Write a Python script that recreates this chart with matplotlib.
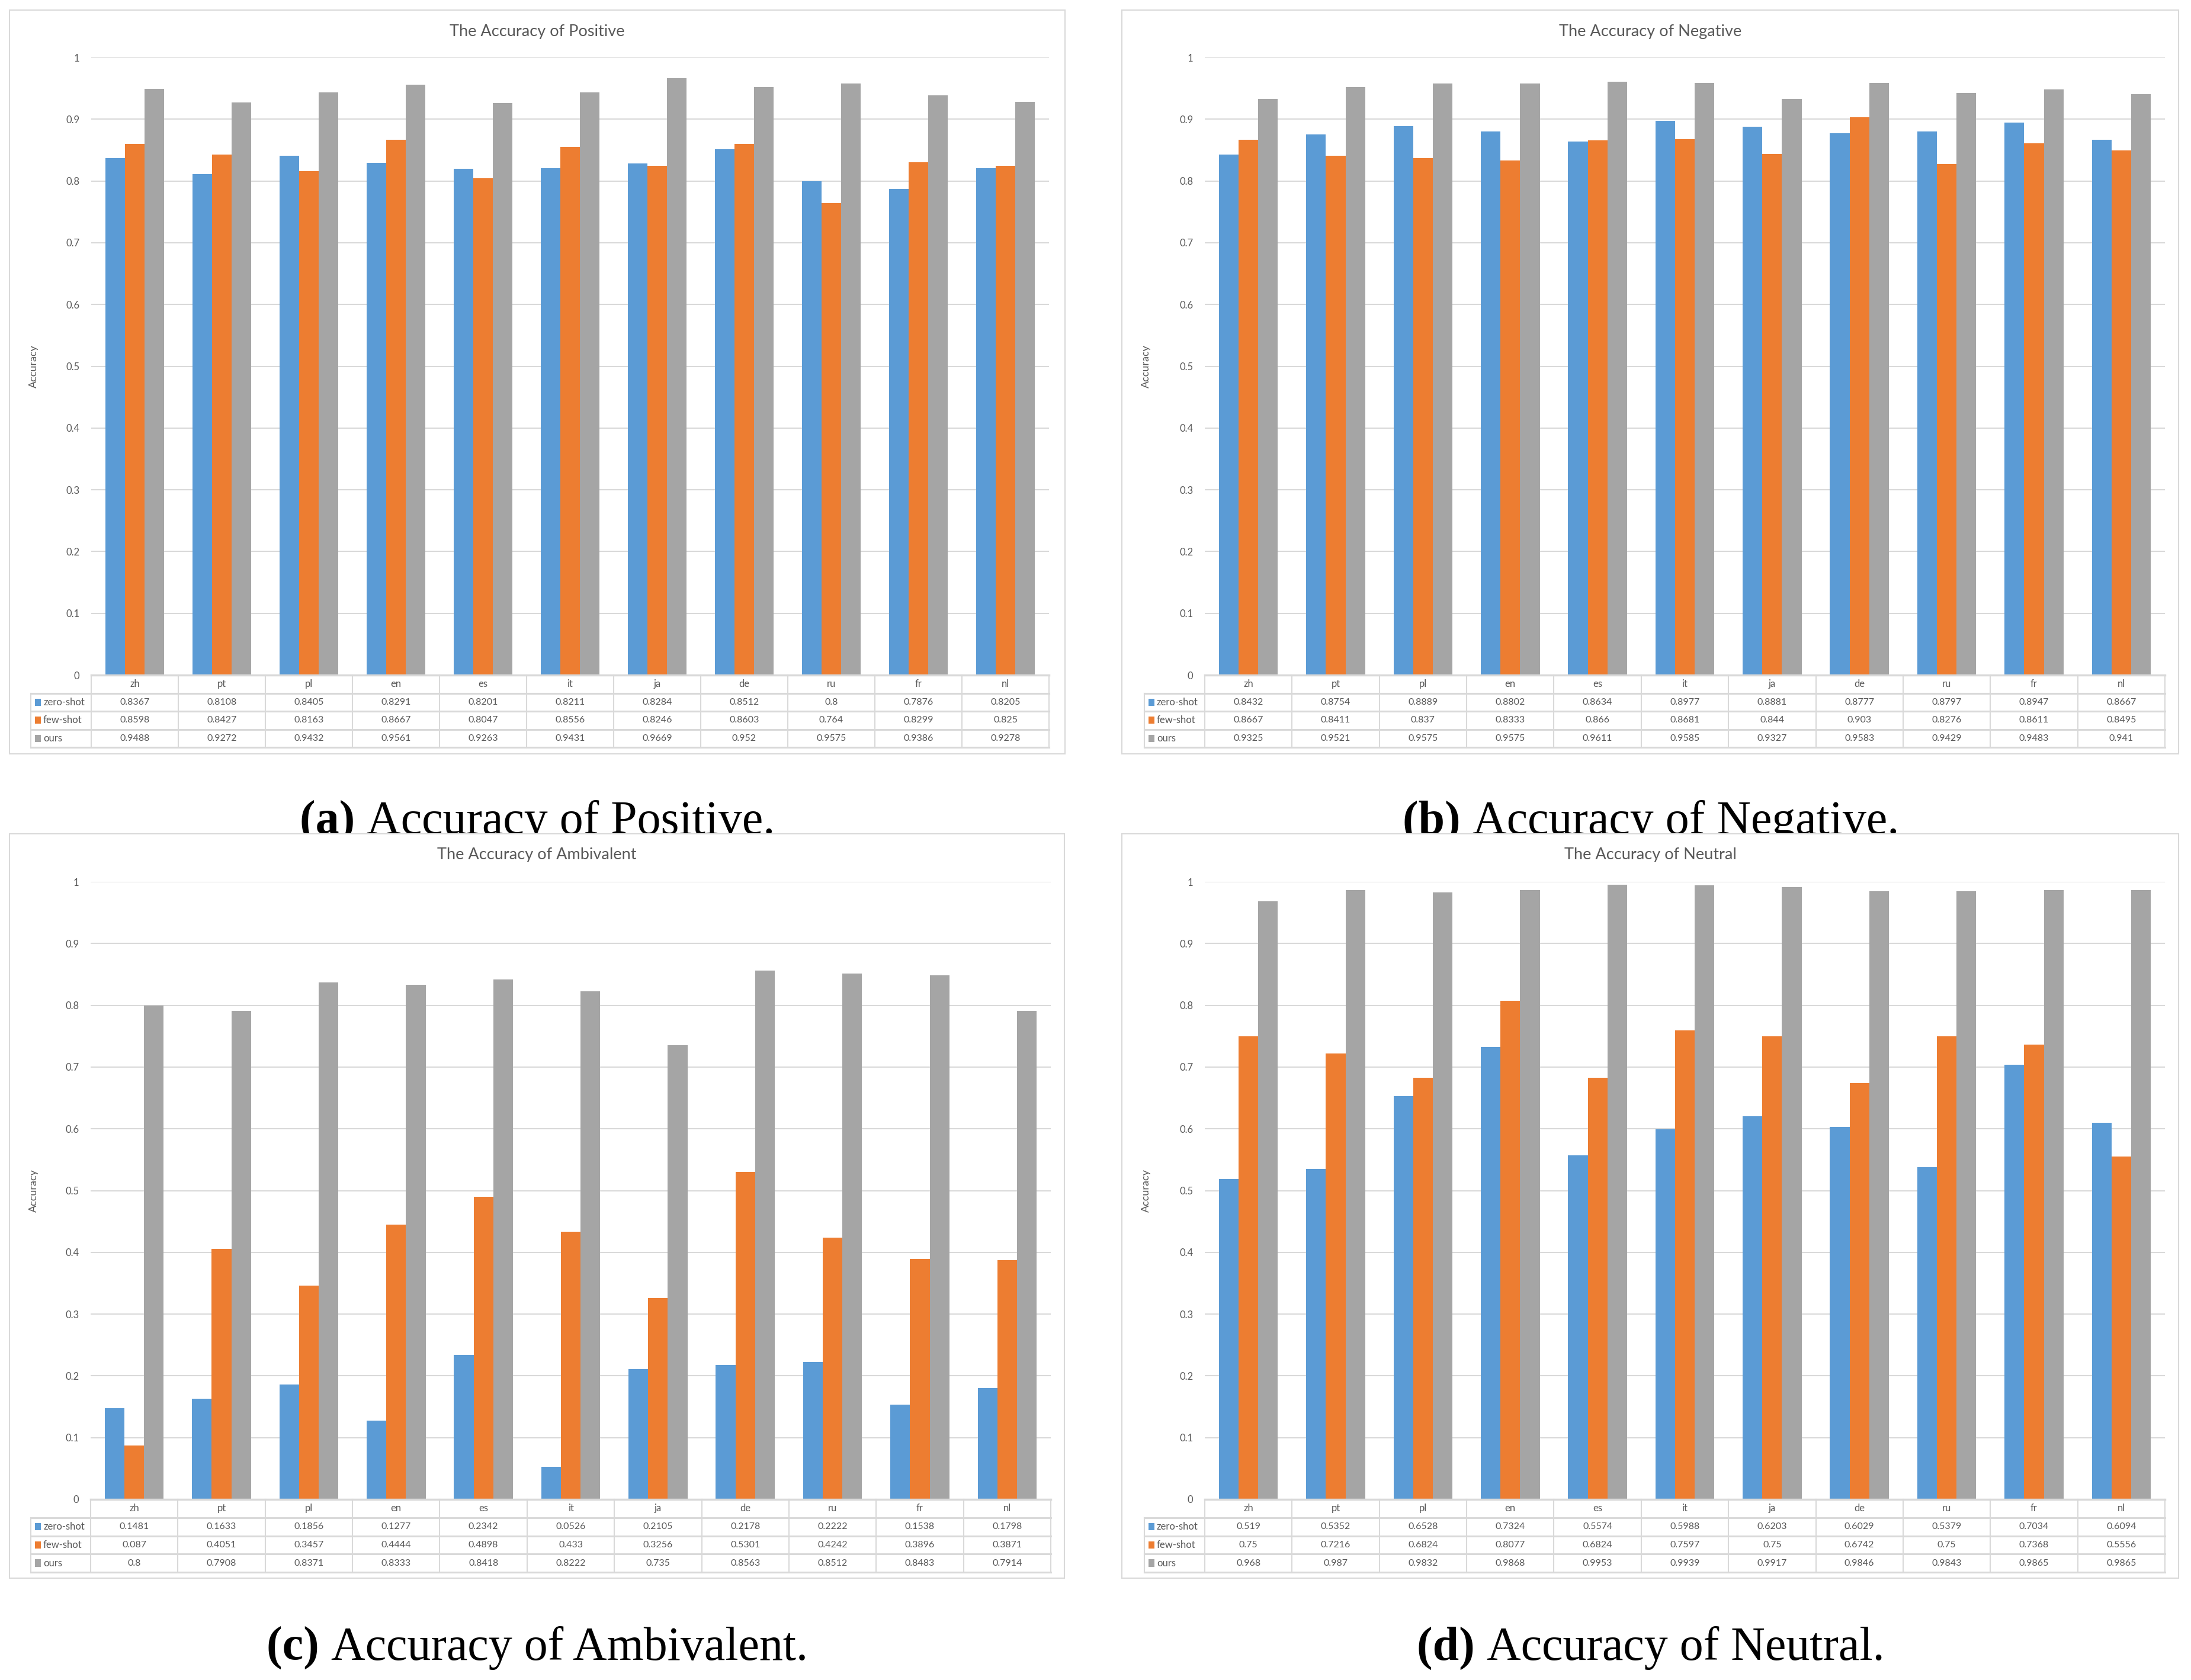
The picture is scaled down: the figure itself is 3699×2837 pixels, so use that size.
import numpy as np
import matplotlib
matplotlib.use("Agg")
import matplotlib.pyplot as plt
from matplotlib.patches import Rectangle

# languages on the x axis
langs = ["zh", "pt", "pl", "en", "es", "it", "ja", "de", "ru", "fr", "nl"]
series_names = ["zero-shot", "few-shot", "ours"]
colors = ["#5B9BD5", "#ED7D31", "#A5A5A5"]

pos_zero = [0.8367, 0.8108, 0.8405, 0.8291, 0.8201, 0.8211, 0.8284, 0.8512, 0.8, 0.7876, 0.8205]
pos_few = [0.8598, 0.8427, 0.8163, 0.8667, 0.8047, 0.8556, 0.8246, 0.8603, 0.764, 0.8299, 0.825]
pos_ours = [0.9488, 0.9272, 0.9432, 0.9561, 0.9263, 0.9431, 0.9669, 0.952, 0.9575, 0.9386, 0.9278]

neg_zero = [0.8432, 0.8754, 0.8889, 0.8802, 0.8634, 0.8977, 0.8881, 0.8777, 0.8797, 0.8947, 0.8667]
neg_few = [0.8667, 0.8411, 0.837, 0.8333, 0.866, 0.8681, 0.844, 0.903, 0.8276, 0.8611, 0.8495]
neg_ours = [0.9325, 0.9521, 0.9575, 0.9575, 0.9611, 0.9585, 0.9327, 0.9583, 0.9429, 0.9483, 0.941]

amb_zero = [0.1481, 0.1633, 0.1856, 0.1277, 0.2342, 0.0526, 0.2105, 0.2178, 0.2222, 0.1538, 0.1798]
amb_few = [0.087, 0.4051, 0.3457, 0.4444, 0.4898, 0.433, 0.3256, 0.5301, 0.4242, 0.3896, 0.3871]
amb_ours = [0.8, 0.7908, 0.8371, 0.8333, 0.8418, 0.8222, 0.735, 0.8563, 0.8512, 0.8483, 0.7914]

neu_zero = [0.519, 0.5352, 0.6528, 0.7324, 0.5574, 0.5988, 0.6203, 0.6029, 0.5379, 0.7034, 0.6094]
neu_few = [0.75, 0.7216, 0.6824, 0.8077, 0.6824, 0.7597, 0.75, 0.6742, 0.75, 0.7368, 0.5556]
neu_ours = [0.968, 0.987, 0.9832, 0.9868, 0.9953, 0.9939, 0.9917, 0.9846, 0.9843, 0.9865, 0.9865]

titles = ["The Accuracy of Positive", "The Accuracy of Negative",
          "The Accuracy of Ambivalent", "The Accuracy of Neutral"]
captions = [("(a)", "Accuracy of Positive."), ("(b)", "Accuracy of Negative."),
            ("(c)", "Accuracy of Ambivalent."), ("(d)", "Accuracy of Neutral.")]
data = [(pos_zero, pos_few, pos_ours), (neg_zero, neg_few, neg_ours),
        (amb_zero, amb_few, amb_ours), (neu_zero, neu_few, neu_ours)]

W, H = 3699, 2837
DPI = 100
fig = plt.figure(figsize=(W / DPI, H / DPI), dpi=DPI)
fig.patch.set_facecolor("white")

FONT = "Lato"
TXT = "#595959"
GRID = "#D9D9D9"
LW = 1.5


def fx(px):
    return px / W


def fy(py):
    return 1 - py / H


# panel layouts in pixels: frame (l, t, r, b), plot (l, top(y=1), r, zero), table left/bottom, caption centre
panels = [
    dict(frame=(16, 17, 1798, 1273), plot=(154, 97, 1771, 1140), tl=52, tb=1262, cx=907, cy=1408, title_y=53, zf=0.1),
    dict(frame=(1894, 17, 3678, 1273), plot=(2034, 97, 3655, 1140), tl=1932, tb=1262, cx=2787, cy=1408, title_y=53, zf=0.1),
    dict(frame=(16, 1408, 1797, 2665), plot=(153, 1489, 1774, 2532), tl=52, tb=2655, cx=907, cy=2803, title_y=1444, zf=0.5),
    dict(frame=(1894, 1408, 3678, 2665), plot=(2034, 1489, 3655, 2532), tl=1932, tb=2655, cx=2787, cy=2803, title_y=1444, zf=0.5),
]

renderer = fig.canvas.get_renderer()

for k, p in enumerate(panels):
    l, t, r, b = p["frame"]
    fig.add_artist(Rectangle((fx(l), fy(b)), fx(r - l), (b - t) / H, transform=fig.transFigure,
                             facecolor="white", edgecolor=GRID, lw=LW, zorder=p["zf"]))

    pl, pt, pr, pb = p["plot"]
    ax = fig.add_axes([fx(pl), fy(pb), fx(pr - pl), (pb - pt) / H], zorder=1)
    ax.set_facecolor("none")
    x = np.arange(len(langs))
    w = 0.225
    for i, vals in enumerate(data[k]):
        ax.bar(x + (i - 1) * w, vals, width=w, color=colors[i], zorder=2)
    ax.set_xlim(-0.5, len(langs) - 0.5)
    ax.set_ylim(0, 1)
    ticks = np.arange(0, 1.01, 0.1)
    ax.set_yticks(ticks)
    ax.set_yticklabels([f"{v:g}" for v in np.round(ticks, 1)], fontsize=12, color=TXT, family=FONT)
    ax.set_xticks([])
    ax.tick_params(axis="y", length=0, pad=14)
    ax.grid(axis="y", color=GRID, lw=LW, zorder=0)
    for s in ax.spines.values():
        s.set_visible(False)

    fig.text(fx(l + 41), fy((pt + pb) / 2), "Accuracy", rotation=90, ha="center", va="center",
             fontsize=13, color=TXT, family=FONT, zorder=2)
    fig.text(fx((l + r) / 2), fy(p["title_y"]), titles[k], ha="center", va="center",
             fontsize=19.5, color=TXT, family=FONT, zorder=2)

    # data table under the plot
    tl, tb = p["tl"], p["tb"]
    colw = (pr - pl) / len(langs)
    legw = (pl - tl) / colw
    tab = fig.add_axes([fx(tl), fy(tb), fx(pr - tl), (tb - pb) / H], zorder=1)
    tab.set_xlim(-0.5 - legw, len(langs) - 0.5)
    tab.set_ylim(4, 0)
    tab.axis("off")
    lx0 = -0.5 - legw
    lx1 = len(langs) - 0.5
    tab.plot([-0.5, lx1], [0, 0], color=GRID, lw=2.5, clip_on=False)
    for yy in [1, 2, 3, 4]:
        tab.plot([lx0, lx1], [yy, yy], color=GRID, lw=2.2, clip_on=False)
    for xx in np.arange(-0.5, len(langs), 1.0):
        tab.plot([xx, xx], [0, 4], color=GRID, lw=LW, clip_on=False)
    tab.plot([lx0, lx0], [1, 4], color=GRID, lw=LW, clip_on=False)

    for j, lg in enumerate(langs):
        tab.text(j, 0.5, lg, ha="center", va="center", fontsize=12, color=TXT, family=FONT)
    for i, vals in enumerate(data[k]):
        for j, v in enumerate(vals):
            tab.text(j, i + 1.5, f"{v:g}", ha="center", va="center", fontsize=11.5, color=TXT, family=FONT)
        kx = lx0 + 7 / colw
        tab.add_patch(Rectangle((kx, i + 1.3), 10 / colw, 0.4, facecolor=colors[i], edgecolor="none",
                                clip_on=False))
        tab.text(kx + 14 / colw, i + 1.5, series_names[i], ha="left", va="center", fontsize=12,
                 color=TXT, family=FONT)

    # caption below the panel
    pre, rest = captions[k]
    t1 = fig.text(0, 0, pre + " ", fontsize=57.5, family="Liberation Serif", weight="bold")
    t2 = fig.text(0, 0, rest, fontsize=57.5, family="Liberation Serif")
    w1 = t1.get_window_extent(renderer).width
    w2 = t2.get_window_extent(renderer).width
    x0 = p["cx"] - (w1 + w2) / 2
    for tt, xs in [(t1, x0), (t2, x0 + w1)]:
        tt.set_position((fx(xs), fy(p["cy"])))
        tt.set_va("baseline")
        tt.set_ha("left")
        tt.set_zorder(0.3)

fig.savefig("out.png", dpi=DPI)
